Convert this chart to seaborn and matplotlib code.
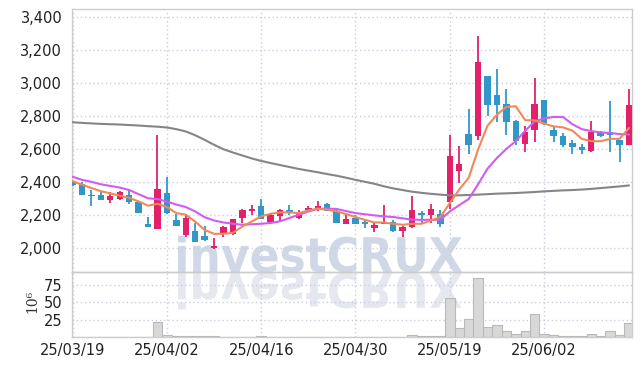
import matplotlib
matplotlib.use("Agg")
import matplotlib.pyplot as plt
import numpy as np
import pandas as pd
import seaborn as sns
from matplotlib.font_manager import FontProperties
from matplotlib.patches import PathPatch
from matplotlib.textpath import TextPath
from matplotlib.ticker import StrMethodFormatter
from matplotlib.transforms import Affine2D

# trading days shown on the chart
dates = [
    "2025-03-19", "2025-03-20", "2025-03-21", "2025-03-24", "2025-03-25", "2025-03-26",
    "2025-03-27", "2025-03-28", "2025-03-31", "2025-04-01", "2025-04-02", "2025-04-03",
    "2025-04-04", "2025-04-07", "2025-04-08", "2025-04-09", "2025-04-10", "2025-04-11",
    "2025-04-14", "2025-04-15", "2025-04-16", "2025-04-17", "2025-04-18", "2025-04-21",
    "2025-04-22", "2025-04-23", "2025-04-24", "2025-04-25", "2025-04-28", "2025-04-29",
    "2025-04-30", "2025-05-02", "2025-05-07", "2025-05-08", "2025-05-09", "2025-05-12",
    "2025-05-13", "2025-05-14", "2025-05-15", "2025-05-16", "2025-05-19", "2025-05-20",
    "2025-05-21", "2025-05-22", "2025-05-23", "2025-05-26", "2025-05-27", "2025-05-28",
    "2025-05-29", "2025-05-30", "2025-06-02", "2025-06-04", "2025-06-05", "2025-06-09",
    "2025-06-10", "2025-06-11", "2025-06-12", "2025-06-13", "2025-06-16", "2025-06-17",
]

open_ = [2390, 2385, 2322, 2322, 2288, 2296, 2322, 2280, 2145, 2116,
         2329, 2169, 2076, 2102, 2071, 2000, 2092, 2080, 2180, 2223,
         2251, 2155, 2192, 2227, 2180, 2227, 2239, 2267, 2223, 2143,
         2182, 2157, 2118, 2143, 2153, 2102, 2125, 2210, 2196, 2202,
         2278, 2465, 2693, 2677, 3044, 2929, 2875, 2772, 2630, 2713,
         2895, 2717, 2681, 2636, 2612, 2590, 2703, 2703, 2651, 2622]
high = [2400, 2400, 2353, 2337, 2337, 2345, 2349, 2280, 2186, 2684,
        2431, 2204, 2204, 2149, 2129, 2057, 2129, 2175, 2237, 2257,
        2298, 2202, 2235, 2257, 2231, 2251, 2282, 2271, 2227, 2196,
        2200, 2174, 2153, 2261, 2165, 2129, 2314, 2222, 2263, 2227,
        2683, 2620, 2844, 3287, 3044, 3085, 2964, 2778, 2737, 3030,
        2895, 2737, 2697, 2657, 2632, 2768, 2711, 2893, 2657, 2964]
low = [2375, 2318, 2255, 2288, 2271, 2292, 2265, 2208, 2124, 2112,
       2204, 2129, 2063, 2037, 2043, 1990, 2063, 2074, 2149, 2196,
       2174, 2149, 2159, 2196, 2172, 2216, 2220, 2220, 2149, 2143,
       2143, 2120, 2094, 2143, 2098, 2063, 2120, 2149, 2149, 2125,
       2237, 2390, 2566, 2657, 2798, 2762, 2687, 2626, 2582, 2642,
       2748, 2642, 2612, 2570, 2570, 2580, 2673, 2582, 2521, 2622]
close = [2380, 2318, 2316, 2288, 2316, 2337, 2276, 2208, 2124, 2359,
         2208, 2129, 2182, 2037, 2047, 2010, 2123, 2172, 2227, 2237,
         2174, 2196, 2227, 2212, 2206, 2239, 2255, 2223, 2149, 2176,
         2143, 2143, 2139, 2155, 2102, 2123, 2227, 2196, 2233, 2145,
         2556, 2511, 2622, 3125, 2869, 2869, 2762, 2647, 2703, 2875,
         2758, 2677, 2626, 2610, 2592, 2703, 2677, 2687, 2622, 2869]

# moving averages
ma5 = [2404, 2383, 2362, 2343, 2330, 2316, 2302, 2281, 2255, 2267,
       2247, 2210, 2200, 2159, 2108, 2084, 2084, 2090, 2128, 2159,
       2190, 2206, 2214, 2214, 2210, 2226, 2237, 2231, 2220, 2204,
       2186, 2169, 2153, 2153, 2145, 2139, 2145, 2145, 2165, 2186,
       2271, 2353, 2424, 2596, 2741, 2808, 2855, 2859, 2774, 2774,
       2754, 2737, 2731, 2711, 2661, 2647, 2647, 2661, 2661, 2727]
ma20 = [2431, 2412, 2400, 2385, 2375, 2365, 2350, 2325, 2300, 2295,
        2280, 2262, 2247, 2220, 2185, 2165, 2153, 2145, 2139, 2142,
        2145, 2150, 2160, 2180, 2200, 2220, 2235, 2237, 2235, 2222,
        2210, 2203, 2196, 2190, 2186, 2178, 2170, 2169, 2169, 2169,
        2220, 2258, 2295, 2385, 2480, 2545, 2600, 2647, 2710, 2768,
        2785, 2794, 2794, 2750, 2720, 2708, 2700, 2697, 2690, 2687]
ma60 = [2762, 2758, 2755, 2752, 2750, 2748, 2745, 2742, 2738, 2735,
        2730, 2720, 2706, 2683, 2655, 2625, 2598, 2578, 2560, 2542,
        2527, 2514, 2502, 2490, 2478, 2468, 2458, 2447, 2437, 2425,
        2412, 2400, 2388, 2373, 2360, 2350, 2340, 2333, 2327, 2322,
        2318, 2318, 2320, 2322, 2325, 2328, 2330, 2332, 2335, 2338,
        2342, 2345, 2348, 2350, 2353, 2357, 2362, 2367, 2372, 2378]

# volume, millions of shares
volume = [0.4, 0.3, 0.3, 0.3, 0.3, 0.3, 0.3, 0.4, 0.5, 21.0,
          2.4, 1.5, 1.0, 1.0, 0.8, 1.2, 0.6, 0.5, 0.6, 0.5,
          1.0, 0.5, 0.6, 0.4, 0.4, 0.3, 0.4, 0.4, 0.5, 0.4,
          0.4, 0.3, 0.3, 0.4, 0.5, 0.5, 2.4, 0.8, 0.9, 1.0,
          56.0, 12.6, 25.6, 85.0, 14.0, 17.0, 8.7, 4.3, 8.7, 33.0,
          4.3, 2.4, 1.2, 1.0, 1.0, 4.8, 1.2, 9.0, 3.0, 19.8]

price_ticks = [2000, 2200, 2400, 2600, 2800, 3000, 3200, 3400]
volume_ticks = [25, 50, 75]

UP = "#e3216b"
DOWN = "#3197c9"
GRID = "#c9cedd"
FRAME = "#cccccc"

sns.set_style("white")
plt.rcParams["font.family"] = ["Liberation Sans Narrow", "DejaVu Sans"]

W, H = 642, 366
fig = plt.figure(figsize=(W / 100, H / 100), dpi=100)
ax = fig.add_axes([72 / W, 1 - 272 / H, 560 / W, 263 / H])
vax = fig.add_axes([72 / W, 1 - 337 / H, 560 / W, 65 / H], sharex=ax)


def add_watermark(text, x0, x1, base, height, color, flip=False):
    # bold text path stretched into a pixel box (origin bottom-left)
    tp = TextPath((0, 0), text, size=100, prop=FontProperties(family="DejaVu Sans", weight="bold"))
    ext = tp.get_extents()
    sx = (x1 - x0) / ext.width
    sy = height / ext.height * (-1 if flip else 1)
    tr = (Affine2D().translate(-ext.x0, 0).scale(sx, sy).translate(x0, H - base)
          + Affine2D().scale(1 / W, 1 / H) + fig.transFigure)
    fig.add_artist(PathPatch(tp, transform=tr, facecolor=color, edgecolor="none", zorder=-1))


add_watermark("investCRUX", 178, 462, 272, 37, "#d0d7e7")
add_watermark("investCRUX", 178, 462, 273, 37, "#e6e8f0", flip=True)

x = np.arange(len(dates))
o, h, l, c = map(np.asarray, (open_, high, low, close))
colors = np.where(c >= o, UP, DOWN)

ax.vlines(x, l, h, colors=colors, linewidth=1.3, zorder=3)
body = np.maximum(np.abs(c - o), 6)
ax.bar(x, body, bottom=np.minimum(o, c), width=0.68, color=colors, linewidth=0, zorder=4)

ma = pd.DataFrame({"x": x, "ma5": ma5, "ma20": ma20, "ma60": ma60})
sns.lineplot(data=ma, x="x", y="ma60", ax=ax, color="#858585", linewidth=1.5, zorder=5)
sns.lineplot(data=ma, x="x", y="ma20", ax=ax, color="#d05cf0", linewidth=1.5, zorder=5)
sns.lineplot(data=ma, x="x", y="ma5", ax=ax, color="#ef8a58", linewidth=1.5, zorder=6)

vol = pd.DataFrame({"x": x, "volume": volume})
sns.barplot(data=vol, x="x", y="volume", ax=vax, native_scale=True, width=1.0,
            color="#d8d8d8", edgecolor="#b9b9b9", linewidth=0.8, saturation=1, zorder=3)

labels = pd.to_datetime(pd.Series(dates)).dt.strftime("%y/%m/%d")
tick_idx = x[::10]

for a in (ax, vax):
    a.set_facecolor("none")
    a.set_xlabel("")
    a.set_ylabel("")
    a.grid(True, color=GRID, linestyle=(0, (1, 2)), linewidth=1)
    a.set_axisbelow(True)
    a.tick_params(length=0, labelsize=10.5, labelcolor="#222222", pad=7)
    for s in a.spines.values():
        s.set_color(FRAME)
        s.set_linewidth(1)

ax.set_xlim(-0.06, 59.32)
ax.set_ylim(1852, 3450)
ax.set_yticks(price_ticks)
ax.yaxis.set_major_formatter(StrMethodFormatter("{x:,.0f}"))
ax.tick_params(axis="x", labelbottom=False)

vax.set_ylim(0, 93.75)
vax.set_yticks(volume_ticks)
vax.set_xticks(tick_idx)
vax.set_xticklabels(labels[tick_idx])
vax.tick_params(axis="x", pad=4)

fig.text(32 / W, 1 - 301 / H, "10⁶", rotation=90, ha="center", va="center",
         family="DejaVu Serif", fontsize=10, color="#333333")

fig.savefig("out.png", dpi=100)
